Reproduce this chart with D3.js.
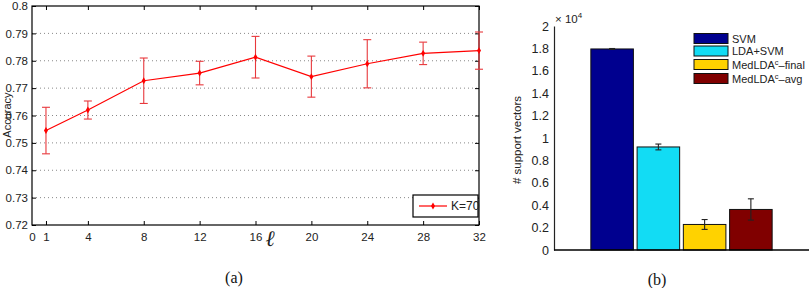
<!DOCTYPE html>
<html>
<head>
<meta charset="utf-8">
<script src="https://cdn.jsdelivr.net/npm/d3@7"></script>
<style>
  body { margin: 0; background: #fff; }
  svg { display: block; }
  .narrow { font-family: "Liberation Sans Narrow", "Liberation Sans", Arial, sans-serif; }
  .sans { font-family: "Liberation Sans", Arial, sans-serif; }
</style>
</head>
<body>
<div id="chart"></div>
<script>
// (a) accuracy vs l
const ells = [1, 4, 8, 12, 16, 20, 24, 28, 32];
const accuracy = [0.7545, 0.762, 0.7727, 0.7755, 0.7813, 0.7742, 0.7789, 0.7827, 0.7837];
const accErr = [0.0085, 0.0033, 0.0083, 0.0043, 0.0076, 0.0075, 0.0088, 0.0041, 0.0068];
const xTicksA = [0, 1, 4, 8, 12, 16, 20, 24, 28, 32];
const yTicksA = [0.72, 0.73, 0.74, 0.75, 0.76, 0.77, 0.78, 0.79, 0.8];

// (b) number of support vectors (x 10^4)
const methods = ["SVM", "LDA+SVM", "MedLDAc-final", "MedLDAc-avg"];
const svCounts = [1.795, 0.92, 0.228, 0.362];
const svErr = [0.004, 0.026, 0.044, 0.095];
const barColors = ["#00008f", "#12dcf4", "#ffd200", "#800000"];
const yTicksB = [0, 0.2, 0.4, 0.6, 0.8, 1, 1.2, 1.4, 1.6, 1.8, 2];

const svg = d3.select("#chart").append("svg")
  .attr("width", 812).attr("height", 288);

// ---------- chart (a) ----------
const xA = d3.scaleLinear().domain([0, 32]).range([32, 479]);
const yA = d3.scaleLinear().domain([0.72, 0.8]).range([225, 6]);

const gA = svg.append("g");

// dotted grid
gA.selectAll(".grid").data(yTicksA.slice(1, -1)).enter().append("line")
  .attr("x1", 32).attr("x2", 479)
  .attr("y1", d => yA(d)).attr("y2", d => yA(d))
  .attr("stroke", "#888").attr("stroke-width", 1)
  .attr("stroke-dasharray", "1,3");

// box
gA.append("rect").attr("x", 32).attr("y", 6).attr("width", 447).attr("height", 219)
  .attr("fill", "none").attr("stroke", "#000").attr("stroke-width", 1.2);

const axB = gA.append("g").attr("transform", "translate(0,225)")
  .call(d3.axisBottom(xA).tickValues(xTicksA).tickSize(-4).tickPadding(8).tickFormat(d3.format("d")));
const axT = gA.append("g").attr("transform", "translate(0,6)")
  .call(d3.axisTop(xA).tickValues(xTicksA.slice(1)).tickSize(-4).tickFormat(""));
const axL = gA.append("g").attr("transform", "translate(32,0)")
  .call(d3.axisLeft(yA).tickValues(yTicksA).tickSize(-4).tickPadding(4).tickFormat(d => d === 0.8 ? "0.8" : d3.format(".2f")(d)));
const axR = gA.append("g").attr("transform", "translate(479,0)")
  .call(d3.axisRight(yA).tickValues(yTicksA).tickSize(-4).tickFormat(""));
[axB, axT, axL, axR].forEach(a => {
  a.select(".domain").remove();
  a.selectAll("line").attr("stroke", "#000");
  a.selectAll("text").attr("class", "narrow").style("font-size", "11.5px").attr("fill", "#222");
});
// hide the tick for 0 on bottom (at the corner)
axB.selectAll(".tick").filter(d => d === 0).select("line").remove();

// error bars
const eb = gA.selectAll(".eb").data(ells).enter().append("g").attr("stroke", "#e8383c").attr("stroke-width", 1.1);
eb.append("line").attr("x1", d => xA(d)).attr("x2", d => xA(d))
  .attr("y1", (d, i) => yA(accuracy[i] - accErr[i])).attr("y2", (d, i) => yA(accuracy[i] + accErr[i]));
eb.append("line").attr("x1", d => xA(d) - 4).attr("x2", d => xA(d) + 4)
  .attr("y1", (d, i) => yA(accuracy[i] - accErr[i])).attr("y2", (d, i) => yA(accuracy[i] - accErr[i]));
eb.append("line").attr("x1", d => xA(d) - 4).attr("x2", d => xA(d) + 4)
  .attr("y1", (d, i) => yA(accuracy[i] + accErr[i])).attr("y2", (d, i) => yA(accuracy[i] + accErr[i]));

const line = d3.line().x((d, i) => xA(ells[i])).y(d => yA(d));
gA.append("path").datum(accuracy).attr("d", line)
  .attr("fill", "none").attr("stroke", "#f00").attr("stroke-width", 1.2);
const star = d3.symbol().type(d3.symbolDiamond).size(14);
gA.selectAll(".mk").data(accuracy).enter().append("path")
  .attr("d", star).attr("fill", "#f00")
  .attr("transform", (d, i) => `translate(${xA(ells[i])},${yA(d)})`);

// legend (a)
gA.append("rect").attr("x", 413).attr("y", 195).attr("width", 65).attr("height", 22)
  .attr("fill", "#fff").attr("stroke", "#000").attr("stroke-width", 1.2);
gA.append("line").attr("x1", 419).attr("x2", 447).attr("y1", 206).attr("y2", 206)
  .attr("stroke", "#f00").attr("stroke-width", 1.2);
gA.append("path").attr("d", star).attr("fill", "#f00").attr("transform", "translate(433,206)");
gA.append("text").attr("class", "narrow").attr("x", 451).attr("y", 210)
  .style("font-size", "12px").attr("fill", "#222").text("K=70");

// axis labels
gA.append("text").attr("class", "sans").attr("transform", "translate(11,115) rotate(-90)")
  .attr("text-anchor", "middle").style("font-size", "11px").attr("fill", "#222").text("Accuracy");
gA.append("text").attr("x", 270).attr("y", 246).attr("text-anchor", "middle")
  .style("font-family", "'DejaVu Serif', serif").style("font-style", "italic")
  .style("font-size", "22px").attr("fill", "#222").text("\u2113");
gA.append("text").attr("x", 234).attr("y", 283).attr("text-anchor", "middle")
  .style("font-family", "'Liberation Serif', 'Times New Roman', serif")
  .style("font-size", "16px").attr("fill", "#111").text("(a)");

// ---------- chart (b) ----------
const xB = d3.scaleBand().domain(methods).range([589, 774]).paddingInner(0.08).paddingOuter(0.04);
const yB = d3.scaleLinear().domain([0, 2]).range([250, 26]);

const gB = svg.append("g");

gB.selectAll(".bar").data(methods).enter().append("rect")
  .attr("x", d => xB(d)).attr("width", xB.bandwidth())
  .attr("y", (d, i) => yB(svCounts[i])).attr("height", (d, i) => yB(0) - yB(svCounts[i]))
  .attr("fill", (d, i) => barColors[i]).attr("stroke", "#111").attr("stroke-width", 1);

const ebB = gB.selectAll(".ebb").data(methods).enter().append("g")
  .attr("stroke", "#222").attr("stroke-width", 1.1);
const cx = d => xB(d) + xB.bandwidth() / 2;
ebB.append("line").attr("x1", cx).attr("x2", cx)
  .attr("y1", (d, i) => yB(svCounts[i] - svErr[i])).attr("y2", (d, i) => yB(svCounts[i] + svErr[i]));
ebB.append("line").attr("x1", d => cx(d) - 3).attr("x2", d => cx(d) + 3)
  .attr("y1", (d, i) => yB(svCounts[i] - svErr[i])).attr("y2", (d, i) => yB(svCounts[i] - svErr[i]));
ebB.append("line").attr("x1", d => cx(d) - 3).attr("x2", d => cx(d) + 3)
  .attr("y1", (d, i) => yB(svCounts[i] + svErr[i])).attr("y2", (d, i) => yB(svCounts[i] + svErr[i]));

const axLB = gB.append("g").attr("transform", "translate(554,0)")
  .call(d3.axisLeft(yB).tickValues(yTicksB).tickSize(0).tickPadding(5).tickFormat(d3.format("~g")));
axLB.select(".domain").attr("stroke", "#222").attr("stroke-width", 1.2);
axLB.selectAll("text").attr("class", "sans").style("font-size", "12.5px").attr("fill", "#222");
gB.append("line").attr("x1", 554).attr("x2", 809).attr("y1", 250).attr("y2", 250)
  .attr("stroke", "#000").attr("stroke-width", 1.3);

// x 10^4
const mult = gB.append("text").attr("class", "sans").attr("x", 555).attr("y", 23)
  .style("font-size", "11.5px").attr("fill", "#222");
mult.append("tspan").text("\u00d7 10");
mult.append("tspan").attr("dy", -5).style("font-size", "8px").text("4");

gB.append("text").attr("class", "sans").attr("transform", "translate(521,140) rotate(-90)")
  .attr("text-anchor", "middle").style("font-size", "11.5px").attr("fill", "#222").text("# support vectors");

// legend (b)
const legRows = [38.5, 51, 64.5, 78.5];
const leg = gB.selectAll(".leg").data(methods).enter().append("g")
  .attr("transform", (d, i) => `translate(694,${legRows[i]})`);
leg.append("rect").attr("x", 0).attr("y", -5).attr("width", 34).attr("height", 10)
  .attr("fill", (d, i) => barColors[i]).attr("stroke", "#111").attr("stroke-width", 1);
const lt = leg.append("text").attr("class", "sans").attr("x", 38).attr("y", 4)
  .style("font-size", "11px").attr("fill", "#222");
lt.each(function (d) {
  const t = d3.select(this);
  if (d.startsWith("MedLDAc")) {
    t.append("tspan").text("MedLDA");
    t.append("tspan").attr("dy", -4).style("font-size", "7.5px").text("c");
    t.append("tspan").attr("dy", 4).text("\u2013" + d.split("-")[1]);
  } else {
    t.text(d);
  }
});

gB.append("text").attr("x", 657).attr("y", 285).attr("text-anchor", "middle")
  .style("font-family", "'Liberation Serif', 'Times New Roman', serif")
  .style("font-size", "16px").attr("fill", "#111").text("(b)");
</script>
</body>
</html>
